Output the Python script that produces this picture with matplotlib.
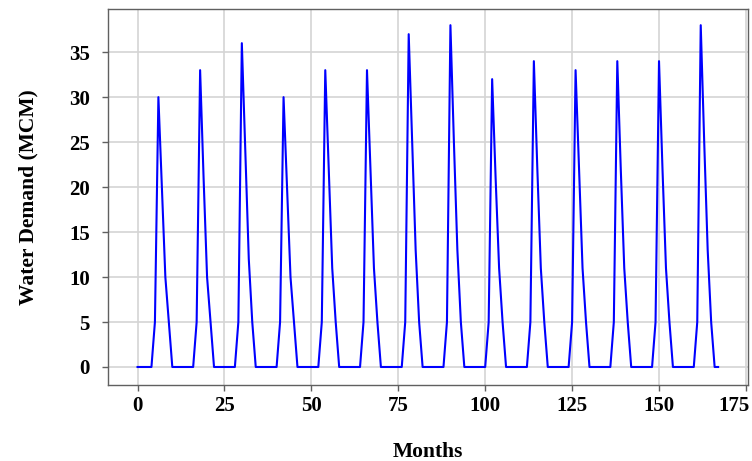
import numpy as np
import matplotlib
matplotlib.use("Agg")
import matplotlib.pyplot as plt
import matplotlib.transforms as mtransforms

# monthly water demand (MCM), one row of 12 months per year, 14 years
peak = [30, 33, 36, 30, 33, 33, 37, 38, 32, 34, 33, 34, 34, 38]
after1 = [20, 21, 24, 20, 22, 22, 25, 25, 21, 22, 22, 22, 22, 25]
after2 = [10, 10, 12, 10, 11, 11, 13, 13, 11, 11, 11, 11, 11, 13]
rise = 5
tail = 5

demand = []
for p, a1, a2 in zip(peak, after1, after2):
    demand += [0, 0, 0, 0, 0, rise, p, a1, a2, tail, 0, 0]
months = np.arange(len(demand))

xticks = [0, 25, 50, 75, 100, 125, 150, 175]
yticks = [0, 5, 10, 15, 20, 25, 30, 35]

plt.rcParams['font.family'] = ['Liberation Serif', 'DejaVu Serif']
plt.rcParams['font.weight'] = 'bold'

fig = plt.figure(figsize=(7.52, 4.61), dpi=100)
ax = fig.add_axes([0.1436, 0.1649, 0.8511, 0.8156])

ax.plot(months, demand, color='#0000ff', lw=1.5, zorder=3)

ax.set_xlim(-8.5, 175.6)
ax.set_ylim(-2, 39.8)
ax.set_xticks(xticks)
ax.set_yticks(yticks)
ax.grid(True, color='#d4d4d4', lw=1.2, zorder=0)
for s in ax.spines.values():
    s.set_color('#606060')
    s.set_linewidth(1.0)
ax.tick_params(axis='both', colors='#606060', length=4, width=1.0,
               labelcolor='black', labelsize=15)
ax.tick_params(axis='y', pad=9)
ax.tick_params(axis='x', pad=4)
for lab in ax.get_xticklabels() + ax.get_yticklabels():
    lab.set_fontweight('bold')

# nudge the last x label left so it stays inside the figure
last = ax.get_xticklabels()[-1]
last.set_transform(last.get_transform() +
                   mtransforms.ScaledTranslation(-12 / 100, 0, fig.dpi_scale_trans))

ax.set_xlabel('Months', fontsize=15.5, fontweight='bold', labelpad=19)
ax.set_ylabel('Water Demand (MCM)', fontsize=15.5, fontweight='bold', labelpad=22)

fig.savefig('out.png', dpi=100)
